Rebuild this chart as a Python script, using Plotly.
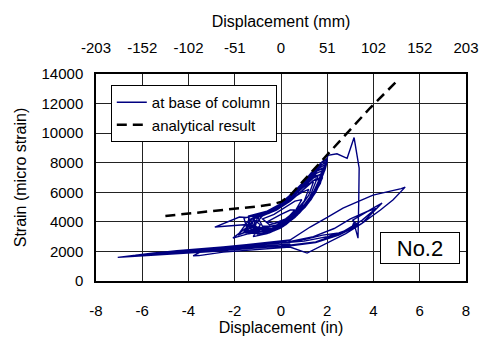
import plotly.graph_objects as go

# ---------------- data ----------------
x_ticks_in = [-8, -6, -4, -2, 0, 2, 4, 6, 8]
x_ticks_mm = ["-203", "-152", "-102", "-51", "0", "51", "102", "152", "203"]
y_ticks = [0, 2000, 4000, 6000, 8000, 10000, 12000, 14000]

# analytical result
ana_disp = [-5.0, -4.0, -3.0, -2.0, -1.0, -0.35, 0.0, 0.4, 1.1, 2.0, 3.0, 3.85, 5.0]
ana_strain = [4400, 4560, 4720, 4880, 5050, 5200, 5350, 5800, 7000, 8600, 10300, 11700, 13500]

# measured: at base of column
meas_disp = [
    0.0, 0.3, 0.6, 0.4, 0.0, -0.4, -0.6,
    -0.3, 0.2, 0.6, 0.9, 0.6, 0.2, -0.3, -0.8,
    -0.5, 0.0, 0.5, 1.0, 1.2, 0.9, 0.5, 0.0, -0.5, -1.0,
    -0.8, -0.3, 0.3, 0.8, 1.2, 1.4, 1.1, 0.6, 0.1, -0.5, -1.2,
    -1.1, -0.5, 0.1, 0.7, 1.2, 1.6, 1.3, 0.8, 0.2, -0.4, -1.4,
    -1.3, -0.6, 0.0, 0.6, 1.2, 1.5, 1.8, 1.5, 1.0, 0.4, -0.2, -0.9, -1.5, -1.8, -2.86, -1.6, -1.2,
    -1.5, -0.8, 0.0, 0.6, 1.1, 1.5, 1.9, 2.0, 1.7, 1.2, 0.6, 0.0, -0.7, -1.3, -1.5, -2.08, -1.4, -1.0,
    -0.9, -0.2, 0.4, 1.0, 1.5, 1.85, 1.5, 1.0, 0.4, -0.3, -1.0, -1.4, -1.86, -1.2,
    -1.2, -0.4, 0.2, 0.8, 1.3, 1.7, 1.4, 0.9, 0.3, -0.4, -1.1, -1.3, -1.64, -1.0,
    -0.6, 0.1, 0.7, 1.2, 1.6, 1.95, 1.6, 1.1, 0.5, -0.1, -0.8, -1.6, -1.43, -1.0,
    -0.7, 0.0, 0.6, 1.1, 1.6, 1.9, 1.6, 1.1, 0.5, -0.1, -0.7, -1.4,
    -1.4, -0.8, -0.1, 0.5, 1.0, 1.4, 1.75, 1.45, 0.9, 0.3, -0.3, -0.9, -1.2, -0.9,
    -1.2, -0.6, 0.0, 0.6, 1.1, 1.5, 1.8, 1.5, 1.0, 0.4, -0.2, -0.8, -1.3, -1.0,
    -0.5, 0.1, 0.7, 1.2, 1.65, 1.95, 1.65, 1.15, 0.55, 0.0, -0.6, -1.1, -1.5,
    -0.9, -0.3, 0.3, 0.9, 1.4, 1.85, 1.55, 1.05, 0.45, -0.15, -0.75, -1.25, -1.6,
    -1.0, -0.4, 0.2, 0.75, 1.25, 1.7, 2.0, 1.75, 1.25, 0.65, 0.05, -0.55, -1.0, -1.15,
    -0.7, -0.1, 0.5, 1.05, 1.55, 1.9, 1.6, 1.1, 0.5, -0.1, -0.65, -1.2, -1.05,
    -0.3, 0.3, 0.9, 1.4, 1.8, 2.0, 1.8, 1.3, 0.7, 0.1, -0.6, -1.2, -1.1, -0.7,
    -0.4, 0.2, 0.8, 1.3, 1.7, 2.03,
    2.42, 2.86, 3.16, 3.38, 3.36, 3.33,
    3.15, 3.05, 2.5, 1.8, 1.0, 0.4, -0.5, -2.0, -3.0, -3.5, -3.8, -3.55, -2.5, -1.0,
    0.39, 1.13, 2.0, 2.8, 3.5, 4.37, 4.0, 3.4, 3.1, 3.3, 2.9, 2.0, 1.0, -0.5, -2.5, -4.5, -5.5,
    -4.5, -3.0, -1.5, 0.0, 1.5, 2.6, 3.5, 4.1, 3.8, 3.0, 2.3, 1.4, 0.3, -1.5, -3.5, -5.5, -7.06,
    -6.5, -5.0, -3.0, -1.0, 0.5, 1.5, 2.5, 3.5, 4.3, 4.85, 5.37,
    5.2, 4.6, 3.98, 3.3, 2.68, 2.0, 1.26, 0.39, -0.5, -1.5, -2.5, -4.5, -6.3,
    -5.0, -3.0, -1.0, 0.4,
]
meas_strain = [
    3900, 4300, 4800, 4800, 4500, 4200, 4000,
    3900, 4200, 4700, 5500, 5400, 5000, 4500, 4200,
    3800, 4000, 4500, 5400, 6200, 6000, 5600, 5000, 4600, 4300,
    3700, 3700, 4200, 4900, 5800, 6700, 6500, 5900, 5200, 4700, 4350,
    3600, 3500, 3900, 4600, 5500, 7100, 6900, 6200, 5400, 4800, 4400,
    3500, 3450, 3750, 4400, 5400, 6200, 7600, 7400, 6700, 5800, 5000, 4500, 4300, 4330, 3650, 3800, 3750,
    3400, 3350, 3650, 4350, 5100, 6100, 7500, 8100, 7800, 7000, 6000, 5150, 4600, 4200, 3600, 2900, 3200, 3300,
    3500, 3600, 4150, 5000, 6000, 7300, 7100, 6400, 5550, 4850, 4450, 4100, 3110, 3500,
    3550, 3550, 3900, 4700, 5700, 6900, 6800, 6100, 5300, 4700, 4300, 3900, 3250, 3500,
    3400, 3700, 4450, 5300, 6400, 7900, 7600, 6800, 5850, 5050, 4550, 4250, 3310, 3450,
    3600, 3850, 4500, 5300, 6500, 7800, 7700, 6900, 5950, 5150, 4650, 4400,
    3700, 3600, 3800, 4350, 5150, 6000, 7200, 7100, 6300, 5500, 4900, 4550, 4200, 3800,
    3000, 3200, 3600, 4300, 5100, 6000, 7000, 6900, 6200, 5400, 4800, 4400, 4150, 3100,
    3250, 3700, 4450, 5350, 6700, 8000, 7800, 7000, 6000, 5250, 4650, 4350, 3250,
    3200, 3400, 3950, 4850, 5900, 7500, 7300, 6500, 5600, 4950, 4500, 3600, 3400,
    3300, 3500, 3950, 4650, 5550, 6800, 8200, 8000, 7200, 6100, 5250, 4750, 4450, 3400,
    3300, 3650, 4200, 5000, 6200, 7700, 7500, 6700, 5750, 5000, 4550, 4300, 3250,
    3550, 3950, 4800, 5900, 7200, 8300, 8100, 7300, 6200, 5300, 4700, 4450, 3700, 3450,
    3450, 3800, 4600, 5500, 6600, 8500,
    8600, 8300, 9700, 7640, 5200, 2900,
    3950, 3550, 3250, 3100, 2800, 2650, 2500, 2300, 2100, 1950, 1700, 1720, 1950, 2150,
    2300, 1890, 2600, 3200, 3900, 5270, 4950, 4400, 4120, 3800, 3450, 3000, 2700, 2500, 2250, 2000, 1850,
    1900, 2050, 2200, 2350, 2650, 3250, 4100, 4900, 4750, 4200, 3550, 3000, 2650, 2400, 2150, 1900, 1600,
    1650, 1800, 2000, 2250, 2400, 2600, 3100, 3900, 4800, 5500, 6350,
    6250, 6050, 5810, 5350, 4930, 4300, 3650, 2770, 2600, 2450, 2300, 2050, 1750,
    1850, 2100, 2350, 2500,
]

FONT = "Liberation Sans, Arial, sans-serif"

fig = go.Figure()
fig.add_trace(go.Scatter(
    x=meas_disp, y=meas_strain, mode="lines", name="at base of column",
    line=dict(color="#000080", width=1.4),
))
fig.add_trace(go.Scatter(
    x=ana_disp, y=ana_strain, mode="lines", name="analytical result",
    line=dict(color="black", width=2.5, dash="10px,6px"),
))
# invisible trace so that the top (mm) axis is drawn
fig.add_trace(go.Scatter(
    x=[0], y=[0], xaxis="x2", mode="markers", marker=dict(opacity=0),
    showlegend=False, hoverinfo="skip",
))

fig.add_annotation(
    x=6.0, y=2230, xref="x", yref="y", text="No.2", showarrow=False,
    font=dict(family=FONT, size=22, color="black"),
    bordercolor="black", borderwidth=1, borderpad=3, bgcolor="white",
    width=72, height=24,
)

axis_common = dict(
    showline=True, linecolor="black", linewidth=1.5, zeroline=False,
    tickfont=dict(family=FONT, size=15, color="black"),
    ticks="", automargin=False,
)

fig.update_layout(
    width=482, height=345,
    margin=dict(l=96, r=16, t=74, b=64, pad=0),
    paper_bgcolor="white", plot_bgcolor="white",
    font=dict(family=FONT, size=15, color="black"),
    showlegend=True,
    legend=dict(
        x=0.04, y=0.947, xanchor="left", yanchor="top",
        bordercolor="black", borderwidth=1, bgcolor="white",
        font=dict(family=FONT, size=15, color="black"),
        itemwidth=30, tracegroupgap=0,
    ),
    xaxis=dict(
        range=[-8, 8], tickvals=x_ticks_in, ticktext=[str(v) for v in x_ticks_in],
        showgrid=True, gridcolor="#222222", gridwidth=1, mirror=True,
        title=dict(text="Displacement (in)", font=dict(family=FONT, size=16), standoff=3),
        ticklabelstandoff=15,
        **axis_common,
    ),
    xaxis2=dict(
        range=[-8, 8], overlaying="x", side="top", anchor="y",
        tickvals=x_ticks_in, ticktext=x_ticks_mm, showgrid=False,
        title=dict(text="Displacement (mm)", font=dict(family=FONT, size=16), standoff=8),
        ticklabelstandoff=13,
        **axis_common,
    ),
    yaxis=dict(
        range=[0, 14000], tickvals=y_ticks, ticktext=[str(v) for v in y_ticks],
        showgrid=True, gridcolor="#222222", gridwidth=1, mirror=True,
        title=dict(text="Strain (micro strain)", font=dict(family=FONT, size=16), standoff=11),
        ticklabelstandoff=8,
        **axis_common,
    ),
)

fig.write_html("out.html")
